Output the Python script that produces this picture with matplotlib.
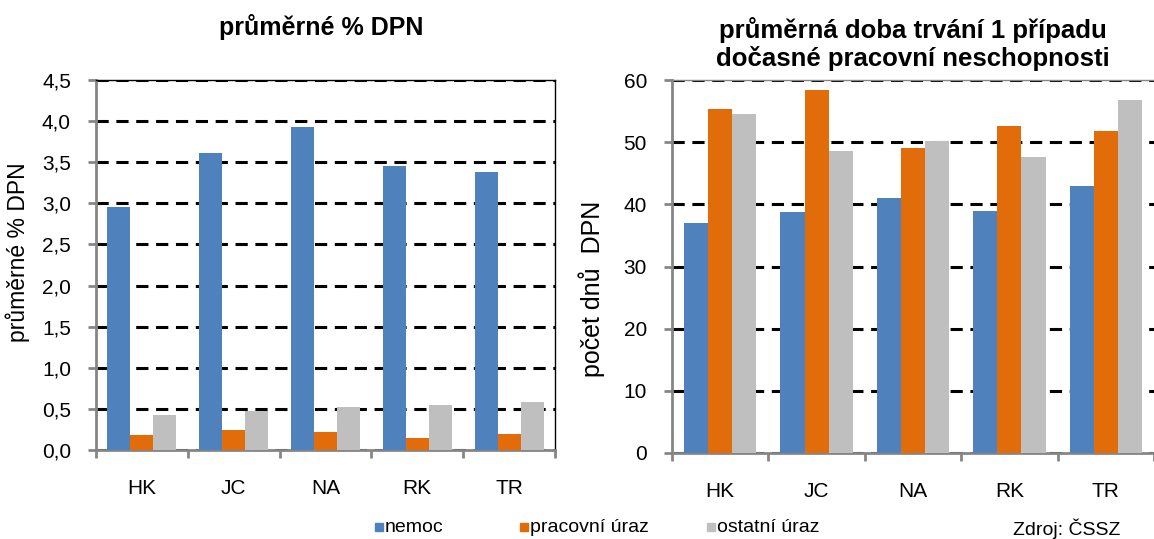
import numpy as np
import matplotlib
matplotlib.use("Agg")
import matplotlib.pyplot as plt
from matplotlib.ticker import FuncFormatter
from matplotlib.patches import Rectangle

plt.rcParams['font.family'] = ['Liberation Sans', 'DejaVu Sans']

# data
kraje = ["HK", "JC", "NA", "RK", "TR"]
serie = ["nemoc", "pracovní úraz", "ostatní úraz"]
barvy = ["#4f81bd", "#e36c0a", "#bfbfbf"]

dpn_nemoc = [2.96, 3.61, 3.93, 3.45, 3.38]
dpn_pracovni = [0.18, 0.24, 0.22, 0.14, 0.20]
dpn_ostatni = [0.43, 0.48, 0.52, 0.55, 0.58]

doba_nemoc = [37.0, 38.8, 41.0, 39.0, 43.0]
doba_pracovni = [55.4, 58.4, 49.1, 52.6, 51.8]
doba_ostatni = [54.6, 48.6, 50.2, 47.6, 56.8]

W, H = 1154, 539
fig = plt.figure(figsize=(W / 100, H / 100), dpi=100)

def px_axes(x0, y0, x1, y1):
    return fig.add_axes([x0 / W, 1 - y1 / H, (x1 - x0) / W, (y1 - y0) / H])

ax1 = px_axes(96, 80, 555, 450)
ax2 = px_axes(672, 80, 1154, 453)

gray = "#868686"
x = np.arange(len(kraje))
bw = 0.25
fs = 15

def kresli(ax, data, ymax, step, fmt):
    for i, vals in enumerate(data):
        ax.bar(x + (i - 1) * bw, vals, bw, color=barvy[i], zorder=3)
    ax.set_xlim(-0.5, len(kraje) - 0.5)
    ax.set_ylim(0, ymax)
    ax.set_yticks(np.arange(0, ymax + step / 2, step))
    ax.yaxis.set_major_formatter(FuncFormatter(fmt))
    ax.set_xticks(x)
    ax.set_xticklabels(kraje)
    ax.set_xticks(np.arange(-0.5, len(kraje)), minor=True)
    ax.tick_params(axis='x', which='major', length=0, pad=21, labelsize=fs)
    ax.tick_params(axis='x', which='minor', length=6, width=2, color=gray, direction='out')
    ax.tick_params(axis='y', length=6, width=2, color=gray, labelsize=fs, pad=12)
    ax.grid(axis='y', color='black', linestyle=(0, (4, 2.5)), linewidth=2.2, zorder=1)
    ax.set_axisbelow(True)
    for s in ['left', 'bottom']:
        ax.spines[s].set_color(gray)
        ax.spines[s].set_linewidth(2)

kresli(ax1, [dpn_nemoc, dpn_pracovni, dpn_ostatni], 4.5, 0.5,
       lambda v, p: f"{v:.1f}".replace(".", ","))
ax1.spines['top'].set_color('black')
ax1.spines['top'].set_linewidth(1)
ax1.spines['right'].set_color('black')
ax1.spines['right'].set_linewidth(1)
ax1.set_ylabel("průměrné % DPN", fontsize=16.5)
ax1.yaxis.set_label_coords(-0.143, 0.535)

kresli(ax2, [doba_nemoc, doba_pracovni, doba_ostatni], 60, 10,
       lambda v, p: f"{v:.0f}")
ax2.spines['right'].set_visible(False)
ax2.spines['top'].set_color(gray)
ax2.spines['top'].set_linewidth(1)
ax2.set_ylabel("počet dnů  DPN", fontsize=18)
ax2.yaxis.set_label_coords(-0.138, 0.44)

fig.text(321 / W, 1 - 27 / H, "průměrné % DPN", fontsize=18, fontweight='bold',
         ha='center', va='center')
fig.text(913 / W, 1 - 44 / H, "průměrná doba trvání 1 případu\ndočasné pracovní neschopnosti",
         fontsize=18.5, fontweight='bold', ha='center', va='center', linespacing=1.18)

# legend
leg_x = [375, 520, 707]
for xx, c, s in zip(leg_x, barvy, serie):
    fig.patches.append(Rectangle((xx / W, 1 - 531 / H), 8 / W, 8 / H, color=c,
                                 transform=fig.transFigure, figure=fig))
    fig.text((xx + 10) / W, 1 - 527 / H, s, fontsize=14, va='center', ha='left')
fig.text(1013 / W, 1 - 529 / H, "Zdroj: ČSSZ", fontsize=14, va='center', ha='left')

fig.savefig("out.png", dpi=100)
